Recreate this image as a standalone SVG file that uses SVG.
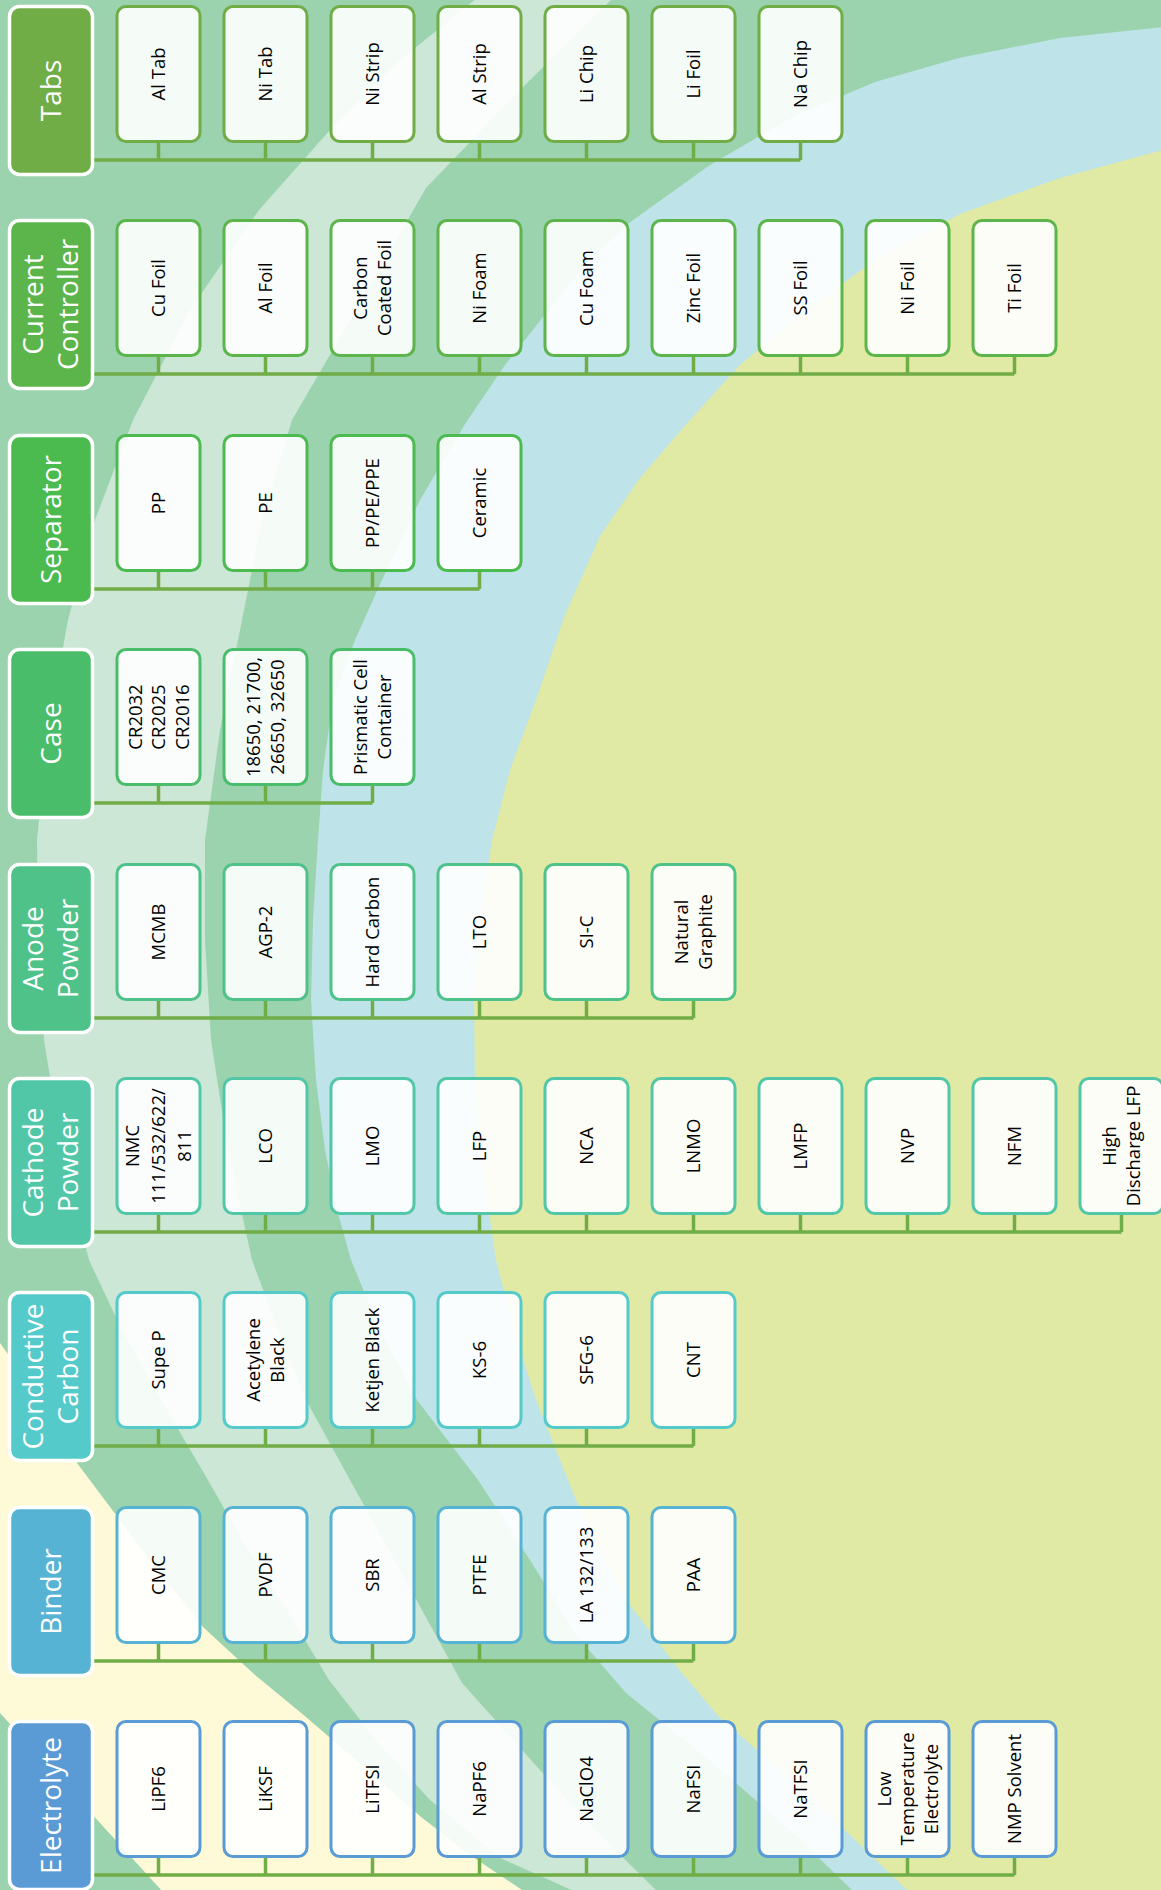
<svg xmlns="http://www.w3.org/2000/svg" width="1161" height="1890" viewBox="0 0 1161 1890">
<style>
.hdr rect{stroke:#FFFFFF;stroke-width:3.5}
.hdr text{font-family:"Open Sans","DejaVu Sans",sans-serif;font-size:28px;fill:#FFFFFF;text-anchor:middle}
.item rect{fill:#FFFFFF;fill-opacity:0.9;stroke-width:3}
.item text{font-family:"Open Sans","DejaVu Sans",sans-serif;font-size:18.5px;fill:#000000;text-anchor:middle}
.c0 rect{stroke:#70AD47}.h0 rect{fill:#70AD47}
.c1 rect{stroke:#5CB54B}.h1 rect{fill:#5CB54B}
.c2 rect{stroke:#4BBA4F}.h2 rect{fill:#4BBA4F}
.c3 rect{stroke:#4ABD6A}.h3 rect{fill:#4ABD6A}
.c4 rect{stroke:#4EC289}.h4 rect{fill:#4EC289}
.c5 rect{stroke:#52C7A8}.h5 rect{fill:#52C7A8}
.c6 rect{stroke:#55CACB}.h6 rect{fill:#55CACB}
.c7 rect{stroke:#57B3D3}.h7 rect{fill:#57B3D3}
.c8 rect{stroke:#5B9BD5}.h8 rect{fill:#5B9BD5}
#connectors path{fill:none;stroke:#70AD47;stroke-width:3.5}
</style>
<g id="background">
<rect x="0" y="0" width="1161" height="1890" fill="#9BD3AE"/>
<polygon fill="#FEFAD7" points="0,1343 40,1400 77,1463 140,1547 203,1627 255,1675 306,1717 365,1768 421,1817 470,1855 525,1892 163,1892 100,1823 50,1768 0,1713"/>
<polygon fill="#CCE7D6" points="477,-2 400,60 330,130 259,210 190,310 133,420 95,520 68,620 48,730 37,840 38,940 44,1040 62,1150 89,1260 122,1330 161,1400 205,1475 245,1545 290,1615 329,1680 380,1745 430,1800 500,1858 576,1892 1163,1892 1163,-2"/>
<polygon fill="#9BD3AE" points="613,-2 520,90 426,188 355,312 292,420 262,520 240,630 220,730 205,840 205,940 211,1040 228,1150 252,1260 278,1330 306,1400 350,1480 400,1570 462,1683 540,1770 600,1835 658,1892 1163,1892 1163,-2"/>
<polygon fill="#BEE3E8" points="1163,27 1060,38 959,58 875,82 794,116 710,165 629,223 585,265 547,312 505,365 465,424 420,500 382,580 355,640 333,700 323,770 318,840 313,920 311,1000 316,1080 325,1150 337,1210 351,1260 380,1330 417,1400 478,1480 530,1560 576,1635 626,1693 715,1765 790,1830 854,1892 1163,1892"/>
<polygon fill="#E1EAA4" points="1163,150 1060,178 960,214 875,260 800,315 740,365 690,420 640,478 600,536 565,615 536,700 510,770 492,840 480,920 474,1000 475,1080 480,1150 496,1260 514,1330 536,1400 576,1500 626,1600 677,1667 719,1717 795,1783 850,1835 909,1892 1163,1892"/>
</g>
<g id="connectors">
<path d="M94 160H800.5M158.5 143V160M265.5 143V160M372.5 143V160M479.5 143V160M586.5 143V160M693.5 143V160M800.5 143V160"/>
<path d="M94 374H1014.5M158.5 357V374M265.5 357V374M372.5 357V374M479.5 357V374M586.5 357V374M693.5 357V374M800.5 357V374M907.5 357V374M1014.5 357V374"/>
<path d="M94 589H479.5M158.5 572V589M265.5 572V589M372.5 572V589M479.5 572V589"/>
<path d="M94 803H372.5M158.5 786V803M265.5 786V803M372.5 786V803"/>
<path d="M94 1018H693.5M158.5 1001V1018M265.5 1001V1018M372.5 1001V1018M479.5 1001V1018M586.5 1001V1018M693.5 1001V1018"/>
<path d="M94 1232H1121.5M158.5 1215V1232M265.5 1215V1232M372.5 1215V1232M479.5 1215V1232M586.5 1215V1232M693.5 1215V1232M800.5 1215V1232M907.5 1215V1232M1014.5 1215V1232M1121.5 1215V1232"/>
<path d="M94 1446H693.5M158.5 1429V1446M265.5 1429V1446M372.5 1429V1446M479.5 1429V1446M586.5 1429V1446M693.5 1429V1446"/>
<path d="M94 1661H693.5M158.5 1644V1661M265.5 1644V1661M372.5 1644V1661M479.5 1644V1661M586.5 1644V1661M693.5 1644V1661"/>
<path d="M94 1875H1014.5M158.5 1858V1875M265.5 1858V1875M372.5 1858V1875M479.5 1858V1875M586.5 1858V1875M693.5 1858V1875M800.5 1858V1875M907.5 1858V1875M1014.5 1858V1875"/>
</g>
<g id="nodes">
<!-- Row 0: Tabs y0=5 -->
<g id="hdr-tabs" class="hdr h0"><rect x="9.5" y="6.5" width="83" height="168" rx="10"/><text transform="translate(51,90.5) rotate(-90)"><tspan x="0" y="9.8">Tabs</tspan></text></g>
<g id="al-tab" class="item c0"><rect x="117" y="6.5" width="83" height="135" rx="9"/><text transform="translate(158.5,74) rotate(-90)"><tspan x="0" y="6.5">Al Tab</tspan></text></g>
<g id="ni-tab" class="item c0"><rect x="224" y="6.5" width="83" height="135" rx="9"/><text transform="translate(265.5,74) rotate(-90)"><tspan x="0" y="6.5">Ni Tab</tspan></text></g>
<g id="ni-strip" class="item c0"><rect x="331" y="6.5" width="83" height="135" rx="9"/><text transform="translate(372.5,74) rotate(-90)"><tspan x="0" y="6.5">Ni Strip</tspan></text></g>
<g id="al-strip" class="item c0"><rect x="438" y="6.5" width="83" height="135" rx="9"/><text transform="translate(479.5,74) rotate(-90)"><tspan x="0" y="6.5">Al Strip</tspan></text></g>
<g id="li-chip" class="item c0"><rect x="545" y="6.5" width="83" height="135" rx="9"/><text transform="translate(586.5,74) rotate(-90)"><tspan x="0" y="6.5">Li Chip</tspan></text></g>
<g id="li-foil" class="item c0"><rect x="652" y="6.5" width="83" height="135" rx="9"/><text transform="translate(693.5,74) rotate(-90)"><tspan x="0" y="6.5">Li Foil</tspan></text></g>
<g id="na-chip" class="item c0"><rect x="759" y="6.5" width="83" height="135" rx="9"/><text transform="translate(800.5,74) rotate(-90)"><tspan x="0" y="6.5">Na Chip</tspan></text></g>
<!-- Row 1: Current Controller y0=219 -->
<g id="hdr-current-controller" class="hdr h1"><rect x="9.5" y="220.5" width="83" height="168" rx="10"/><text transform="translate(51,304.5) rotate(-90)"><tspan x="0" y="-7.7">Current</tspan><tspan x="0" y="27.3">Controller</tspan></text></g>
<g id="cu-foil" class="item c1"><rect x="117" y="220.5" width="83" height="135" rx="9"/><text transform="translate(158.5,288) rotate(-90)"><tspan x="0" y="6.5">Cu Foil</tspan></text></g>
<g id="al-foil" class="item c1"><rect x="224" y="220.5" width="83" height="135" rx="9"/><text transform="translate(265.5,288) rotate(-90)"><tspan x="0" y="6.5">Al Foil</tspan></text></g>
<g id="carbon-coated-foil" class="item c1"><rect x="331" y="220.5" width="83" height="135" rx="9"/><text transform="translate(372.5,288) rotate(-90)"><tspan x="0" y="-5.25">Carbon</tspan><tspan x="0" y="18.25">Coated Foil</tspan></text></g>
<g id="ni-foam" class="item c1"><rect x="438" y="220.5" width="83" height="135" rx="9"/><text transform="translate(479.5,288) rotate(-90)"><tspan x="0" y="6.5">Ni Foam</tspan></text></g>
<g id="cu-foam" class="item c1"><rect x="545" y="220.5" width="83" height="135" rx="9"/><text transform="translate(586.5,288) rotate(-90)"><tspan x="0" y="6.5">Cu Foam</tspan></text></g>
<g id="zinc-foil" class="item c1"><rect x="652" y="220.5" width="83" height="135" rx="9"/><text transform="translate(693.5,288) rotate(-90)"><tspan x="0" y="6.5">Zinc Foil</tspan></text></g>
<g id="ss-foil" class="item c1"><rect x="759" y="220.5" width="83" height="135" rx="9"/><text transform="translate(800.5,288) rotate(-90)"><tspan x="0" y="6.5">SS Foil</tspan></text></g>
<g id="ni-foil" class="item c1"><rect x="866" y="220.5" width="83" height="135" rx="9"/><text transform="translate(907.5,288) rotate(-90)"><tspan x="0" y="6.5">Ni Foil</tspan></text></g>
<g id="ti-foil" class="item c1"><rect x="973" y="220.5" width="83" height="135" rx="9"/><text transform="translate(1014.5,288) rotate(-90)"><tspan x="0" y="6.5">Ti Foil</tspan></text></g>
<!-- Row 2: Separator y0=434 -->
<g id="hdr-separator" class="hdr h2"><rect x="9.5" y="435.5" width="83" height="168" rx="10"/><text transform="translate(51,519.5) rotate(-90)"><tspan x="0" y="9.8">Separator</tspan></text></g>
<g id="pp" class="item c2"><rect x="117" y="435.5" width="83" height="135" rx="9"/><text transform="translate(158.5,503) rotate(-90)"><tspan x="0" y="6.5">PP</tspan></text></g>
<g id="pe" class="item c2"><rect x="224" y="435.5" width="83" height="135" rx="9"/><text transform="translate(265.5,503) rotate(-90)"><tspan x="0" y="6.5">PE</tspan></text></g>
<g id="pp-pe-ppe" class="item c2"><rect x="331" y="435.5" width="83" height="135" rx="9"/><text transform="translate(372.5,503) rotate(-90)"><tspan x="0" y="6.5">PP/PE/PPE</tspan></text></g>
<g id="ceramic" class="item c2"><rect x="438" y="435.5" width="83" height="135" rx="9"/><text transform="translate(479.5,503) rotate(-90)"><tspan x="0" y="6.5">Ceramic</tspan></text></g>
<!-- Row 3: Case y0=648 -->
<g id="hdr-case" class="hdr h3"><rect x="9.5" y="649.5" width="83" height="168" rx="10"/><text transform="translate(51,733.5) rotate(-90)"><tspan x="0" y="9.8">Case</tspan></text></g>
<g id="coin-case" class="item c3"><rect x="117" y="649.5" width="83" height="135" rx="9"/><text transform="translate(158.5,717) rotate(-90)"><tspan x="0" y="-17">CR2032</tspan><tspan x="0" y="6.5">CR2025</tspan><tspan x="0" y="30">CR2016</tspan></text></g>
<g id="cylindrical-case" class="item c3"><rect x="224" y="649.5" width="83" height="135" rx="9"/><text transform="translate(265.5,717) rotate(-90)"><tspan x="0" y="-5.25">18650, 21700,</tspan><tspan x="0" y="18.25">26650, 32650</tspan></text></g>
<g id="prismatic-case" class="item c3"><rect x="331" y="649.5" width="83" height="135" rx="9"/><text transform="translate(372.5,717) rotate(-90)"><tspan x="0" y="-5.25">Prismatic Cell</tspan><tspan x="0" y="18.25">Container</tspan></text></g>
<!-- Row 4: Anode Powder y0=863 -->
<g id="hdr-anode-powder" class="hdr h4"><rect x="9.5" y="864.5" width="83" height="168" rx="10"/><text transform="translate(51,948.5) rotate(-90)"><tspan x="0" y="-7.7">Anode</tspan><tspan x="0" y="27.3">Powder</tspan></text></g>
<g id="mcmb" class="item c4"><rect x="117" y="864.5" width="83" height="135" rx="9"/><text transform="translate(158.5,932) rotate(-90)"><tspan x="0" y="6.5">MCMB</tspan></text></g>
<g id="agp-2" class="item c4"><rect x="224" y="864.5" width="83" height="135" rx="9"/><text transform="translate(265.5,932) rotate(-90)"><tspan x="0" y="6.5">AGP-2</tspan></text></g>
<g id="hard-carbon" class="item c4"><rect x="331" y="864.5" width="83" height="135" rx="9"/><text transform="translate(372.5,932) rotate(-90)"><tspan x="0" y="6.5">Hard Carbon</tspan></text></g>
<g id="lto" class="item c4"><rect x="438" y="864.5" width="83" height="135" rx="9"/><text transform="translate(479.5,932) rotate(-90)"><tspan x="0" y="6.5">LTO</tspan></text></g>
<g id="si-c" class="item c4"><rect x="545" y="864.5" width="83" height="135" rx="9"/><text transform="translate(586.5,932) rotate(-90)"><tspan x="0" y="6.5">SI-C</tspan></text></g>
<g id="natural-graphite" class="item c4"><rect x="652" y="864.5" width="83" height="135" rx="9"/><text transform="translate(693.5,932) rotate(-90)"><tspan x="0" y="-5.25">Natural</tspan><tspan x="0" y="18.25">Graphite</tspan></text></g>
<!-- Row 5: Cathode Powder y0=1077 -->
<g id="hdr-cathode-powder" class="hdr h5"><rect x="9.5" y="1078.5" width="83" height="168" rx="10"/><text transform="translate(51,1162.5) rotate(-90)"><tspan x="0" y="-7.7">Cathode</tspan><tspan x="0" y="27.3">Powder</tspan></text></g>
<g id="nmc" class="item c5"><rect x="117" y="1078.5" width="83" height="135" rx="9"/><text transform="translate(158.5,1146) rotate(-90)"><tspan x="0" y="-20">NMC</tspan><tspan x="0" y="6.5">111/532/622/</tspan><tspan x="0" y="32">811</tspan></text></g>
<g id="lco" class="item c5"><rect x="224" y="1078.5" width="83" height="135" rx="9"/><text transform="translate(265.5,1146) rotate(-90)"><tspan x="0" y="6.5">LCO</tspan></text></g>
<g id="lmo" class="item c5"><rect x="331" y="1078.5" width="83" height="135" rx="9"/><text transform="translate(372.5,1146) rotate(-90)"><tspan x="0" y="6.5">LMO</tspan></text></g>
<g id="lfp" class="item c5"><rect x="438" y="1078.5" width="83" height="135" rx="9"/><text transform="translate(479.5,1146) rotate(-90)"><tspan x="0" y="6.5">LFP</tspan></text></g>
<g id="nca" class="item c5"><rect x="545" y="1078.5" width="83" height="135" rx="9"/><text transform="translate(586.5,1146) rotate(-90)"><tspan x="0" y="6.5">NCA</tspan></text></g>
<g id="lnmo" class="item c5"><rect x="652" y="1078.5" width="83" height="135" rx="9"/><text transform="translate(693.5,1146) rotate(-90)"><tspan x="0" y="6.5">LNMO</tspan></text></g>
<g id="lmfp" class="item c5"><rect x="759" y="1078.5" width="83" height="135" rx="9"/><text transform="translate(800.5,1146) rotate(-90)"><tspan x="0" y="6.5">LMFP</tspan></text></g>
<g id="nvp" class="item c5"><rect x="866" y="1078.5" width="83" height="135" rx="9"/><text transform="translate(907.5,1146) rotate(-90)"><tspan x="0" y="6.5">NVP</tspan></text></g>
<g id="nfm" class="item c5"><rect x="973" y="1078.5" width="83" height="135" rx="9"/><text transform="translate(1014.5,1146) rotate(-90)"><tspan x="0" y="6.5">NFM</tspan></text></g>
<g id="high-discharge-lfp" class="item c5"><rect x="1080" y="1078.5" width="83" height="135" rx="9"/><text transform="translate(1121.5,1146) rotate(-90)"><tspan x="0" y="-5.25">High</tspan><tspan x="0" y="18.25">Discharge LFP</tspan></text></g>
<!-- Row 6: Conductive Carbon y0=1291 -->
<g id="hdr-conductive-carbon" class="hdr h6"><rect x="9.5" y="1292.5" width="83" height="168" rx="10"/><text transform="translate(51,1376.5) rotate(-90)"><tspan x="0" y="-7.7">Conductive</tspan><tspan x="0" y="27.3">Carbon</tspan></text></g>
<g id="supe-p" class="item c6"><rect x="117" y="1292.5" width="83" height="135" rx="9"/><text transform="translate(158.5,1360) rotate(-90)"><tspan x="0" y="6.5">Supe P</tspan></text></g>
<g id="acetylene-black" class="item c6"><rect x="224" y="1292.5" width="83" height="135" rx="9"/><text transform="translate(265.5,1360) rotate(-90)"><tspan x="0" y="-5.25">Acetylene</tspan><tspan x="0" y="18.25">Black</tspan></text></g>
<g id="ketjen-black" class="item c6"><rect x="331" y="1292.5" width="83" height="135" rx="9"/><text transform="translate(372.5,1360) rotate(-90)"><tspan x="0" y="6.5">Ketjen Black</tspan></text></g>
<g id="ks-6" class="item c6"><rect x="438" y="1292.5" width="83" height="135" rx="9"/><text transform="translate(479.5,1360) rotate(-90)"><tspan x="0" y="6.5">KS-6</tspan></text></g>
<g id="sfg-6" class="item c6"><rect x="545" y="1292.5" width="83" height="135" rx="9"/><text transform="translate(586.5,1360) rotate(-90)"><tspan x="0" y="6.5">SFG-6</tspan></text></g>
<g id="cnt" class="item c6"><rect x="652" y="1292.5" width="83" height="135" rx="9"/><text transform="translate(693.5,1360) rotate(-90)"><tspan x="0" y="6.5">CNT</tspan></text></g>
<!-- Row 7: Binder y0=1506 -->
<g id="hdr-binder" class="hdr h7"><rect x="9.5" y="1507.5" width="83" height="168" rx="10"/><text transform="translate(51,1591.5) rotate(-90)"><tspan x="0" y="9.8">Binder</tspan></text></g>
<g id="cmc" class="item c7"><rect x="117" y="1507.5" width="83" height="135" rx="9"/><text transform="translate(158.5,1575) rotate(-90)"><tspan x="0" y="6.5">CMC</tspan></text></g>
<g id="pvdf" class="item c7"><rect x="224" y="1507.5" width="83" height="135" rx="9"/><text transform="translate(265.5,1575) rotate(-90)"><tspan x="0" y="6.5">PVDF</tspan></text></g>
<g id="sbr" class="item c7"><rect x="331" y="1507.5" width="83" height="135" rx="9"/><text transform="translate(372.5,1575) rotate(-90)"><tspan x="0" y="6.5">SBR</tspan></text></g>
<g id="ptfe" class="item c7"><rect x="438" y="1507.5" width="83" height="135" rx="9"/><text transform="translate(479.5,1575) rotate(-90)"><tspan x="0" y="6.5">PTFE</tspan></text></g>
<g id="la-132-133" class="item c7"><rect x="545" y="1507.5" width="83" height="135" rx="9"/><text transform="translate(586.5,1575) rotate(-90)"><tspan x="0" y="6.5">LA 132/133</tspan></text></g>
<g id="paa" class="item c7"><rect x="652" y="1507.5" width="83" height="135" rx="9"/><text transform="translate(693.5,1575) rotate(-90)"><tspan x="0" y="6.5">PAA</tspan></text></g>
<!-- Row 8: Electrolyte y0=1720 -->
<g id="hdr-electrolyte" class="hdr h8"><rect x="9.5" y="1721.5" width="83" height="168" rx="10"/><text transform="translate(51,1805.5) rotate(-90)"><tspan x="0" y="9.8">Electrolyte</tspan></text></g>
<g id="lipf6" class="item c8"><rect x="117" y="1721.5" width="83" height="135" rx="9"/><text transform="translate(158.5,1789) rotate(-90)"><tspan x="0" y="6.5">LiPF6</tspan></text></g>
<g id="liksf" class="item c8"><rect x="224" y="1721.5" width="83" height="135" rx="9"/><text transform="translate(265.5,1789) rotate(-90)"><tspan x="0" y="6.5">LiKSF</tspan></text></g>
<g id="litfsi" class="item c8"><rect x="331" y="1721.5" width="83" height="135" rx="9"/><text transform="translate(372.5,1789) rotate(-90)"><tspan x="0" y="6.5">LiTFSI</tspan></text></g>
<g id="napf6" class="item c8"><rect x="438" y="1721.5" width="83" height="135" rx="9"/><text transform="translate(479.5,1789) rotate(-90)"><tspan x="0" y="6.5">NaPF6</tspan></text></g>
<g id="naclo4" class="item c8"><rect x="545" y="1721.5" width="83" height="135" rx="9"/><text transform="translate(586.5,1789) rotate(-90)"><tspan x="0" y="6.5">NaClO4</tspan></text></g>
<g id="nafsi" class="item c8"><rect x="652" y="1721.5" width="83" height="135" rx="9"/><text transform="translate(693.5,1789) rotate(-90)"><tspan x="0" y="6.5">NaFSI</tspan></text></g>
<g id="natfsi" class="item c8"><rect x="759" y="1721.5" width="83" height="135" rx="9"/><text transform="translate(800.5,1789) rotate(-90)"><tspan x="0" y="6.5">NaTFSI</tspan></text></g>
<g id="low-temperature-electrolyte" class="item c8"><rect x="866" y="1721.5" width="83" height="135" rx="9"/><text transform="translate(907.5,1789) rotate(-90)"><tspan x="0" y="-17">Low</tspan><tspan x="0" y="6.5">Temperature</tspan><tspan x="0" y="30">Electrolyte</tspan></text></g>
<g id="nmp-solvent" class="item c8"><rect x="973" y="1721.5" width="83" height="135" rx="9"/><text transform="translate(1014.5,1789) rotate(-90)"><tspan x="0" y="6.5">NMP Solvent</tspan></text></g>
</g>
</svg>
